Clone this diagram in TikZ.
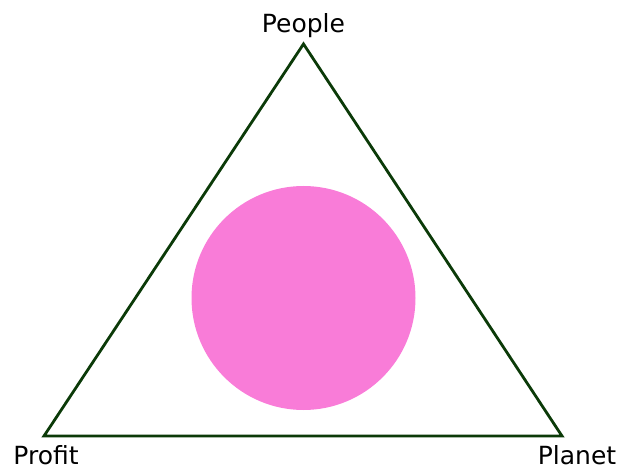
\documentclass[tikz,border=0pt]{standalone}
\usepackage{fontspec}
\setmainfont{DejaVu Sans}
\definecolor{edgegreen}{HTML}{0B3A08}
\definecolor{pinkfill}{HTML}{F97CD8}
\begin{document}
\begin{tikzpicture}[x=1pt,y=-1pt,
  lbl/.style={inner sep=0pt,anchor=base,font=\fontsize{25}{28}\selectfont,text=black},
  tri/.style={draw=edgegreen,line width=2.8pt,line join=miter}]
\useasboundingbox (0,0) rectangle (619,468);
\coordinate (top) at (303.5,44);
\coordinate (bl) at (44,436);
\coordinate (br) at (562,436);
\fill[pinkfill] (303.5,298) circle (112);
\draw[tri] (top) -- (br) -- (bl) -- cycle;
\node[lbl] (people) at (303.5,33) {People};
\node[lbl] (profit) at (46,464) {Profit};
\node[lbl] (planet) at (577,464) {Planet};
\end{tikzpicture}
\end{document}
